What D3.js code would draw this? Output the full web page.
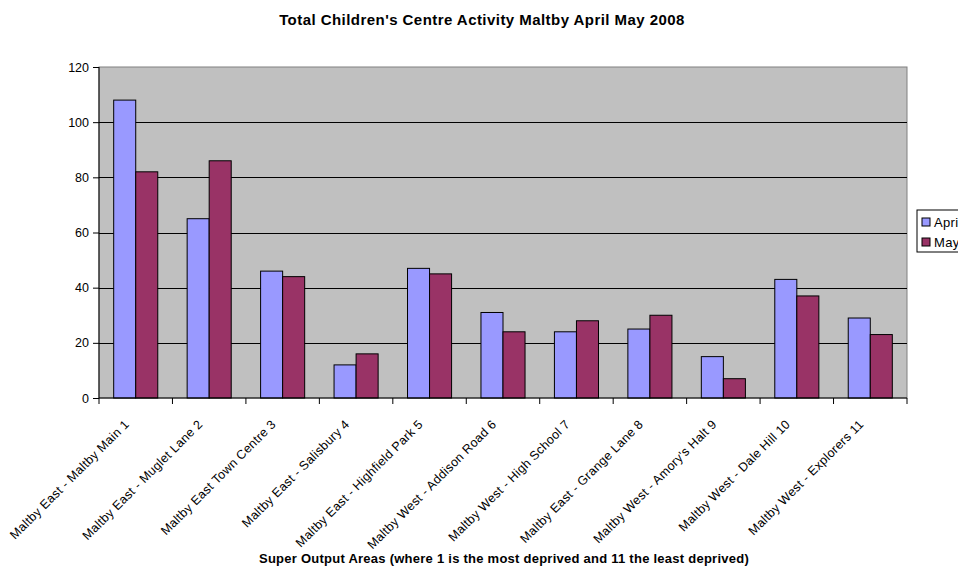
<!DOCTYPE html>
<html>
<head>
<meta charset="utf-8">
<script src="https://cdn.jsdelivr.net/npm/d3@7"></script>
<style>
  body { margin: 0; background: #fff; }
  svg { font-family: 'Liberation Sans', Arial, sans-serif; }
  .title { font-weight: bold; font-size: 15px; letter-spacing: 0.45px; }
  .axis-label { font-weight: bold; font-size: 13px; letter-spacing: 0.25px; }
  .tick text { font-size: 12.5px; fill: #000; }
  .xlabel { letter-spacing: 0.3px; }
</style>
</head>
<body>
<svg width="958" height="566"></svg>
<script>
const titleText = 'Total Children\'s Centre Activity Maltby April May 2008';
const xAxisLabelText = 'Super Output Areas (where 1 is the most deprived and 11 the least deprived)';

const areas = [
  'Maltby East - Maltby Main 1',
  'Maltby East - Muglet Lane 2',
  'Maltby East Town Centre 3',
  'Maltby East - Salisbury 4',
  'Maltby East - Highfield Park 5',
  'Maltby West - Addison Road 6',
  'Maltby West - High School 7',
  'Maltby East  - Grange Lane 8',
  'Maltby West - Amory\'s Halt 9',
  'Maltby West - Dale Hill 10',
  'Maltby West - Explorers 11'
];
const seriesNames = ['April', 'May'];
const april = [108, 65, 46, 12, 47, 31, 24, 25, 15, 43, 29];
const may = [82, 86, 44, 16, 45, 24, 28, 30, 7, 37, 23];
const yTicks = [0, 20, 40, 60, 80, 100, 120];
const colors = ['#9999ff', '#993366'];

const data = areas.map((a, i) => ({ area: a, values: [april[i], may[i]] }));

const svg = d3.select('svg');
const width = +svg.attr('width');
const height = +svg.attr('height');

const margin = { top: 67, right: 51, bottom: 168, left: 99 };
const innerWidth = width - margin.left - margin.right;
const innerHeight = height - margin.top - margin.bottom;

const xScale = d3.scaleBand()
  .domain(areas)
  .range([0, innerWidth])
  .paddingInner(0.4)
  .paddingOuter(0.2);

const xSub = d3.scaleBand()
  .domain(seriesNames)
  .range([0, xScale.bandwidth()]);

const yScale = d3.scaleLinear()
  .domain([0, 120])
  .range([innerHeight, 0]);

const g = svg.append('g')
  .attr('transform', `translate(${margin.left},${margin.top})`);

// plot background
g.append('rect')
  .attr('width', innerWidth)
  .attr('height', innerHeight)
  .attr('fill', '#c0c0c0')
  .attr('stroke', '#808080');

// grid lines
g.append('g')
  .selectAll('line').data(yTicks.slice(1, -1))
  .enter().append('line')
    .attr('x1', 0)
    .attr('x2', innerWidth)
    .attr('y1', d => Math.round(yScale(d)) + 0.5)
    .attr('y2', d => Math.round(yScale(d)) + 0.5)
    .attr('stroke', '#000');

// bars
const groups = g.selectAll('.group').data(data)
  .enter().append('g')
    .attr('class', 'group')
    .attr('transform', d => `translate(${xScale(d.area)},0)`);

groups.selectAll('rect')
  .data(d => d.values.map((v, i) => ({ key: seriesNames[i], value: v, i })))
  .enter().append('rect')
    .attr('x', d => xSub(d.key))
    .attr('y', d => yScale(d.value))
    .attr('width', xSub.bandwidth())
    .attr('height', d => innerHeight - yScale(d.value))
    .attr('fill', d => colors[d.i])
    .attr('stroke', '#000')
    .attr('stroke-width', 1);

// y axis
const yAxis = d3.axisLeft(yScale)
  .tickValues(yTicks)
  .tickSize(6)
  .tickPadding(4);

const yAxisG = g.append('g').call(yAxis);
yAxisG.selectAll('line').attr('stroke', '#000');
yAxisG.select('.domain').attr('stroke', '#000').attr('d', `M0,0V${innerHeight}`);

// x axis: ticks between categories
const xAxisG = g.append('g')
  .attr('transform', `translate(0,${innerHeight})`);

xAxisG.append('line')
  .attr('x1', 0).attr('x2', innerWidth)
  .attr('stroke', '#000');

const boundaries = d3.range(areas.length + 1).map(i => i * innerWidth / areas.length);
xAxisG.selectAll('.xtick').data(boundaries)
  .enter().append('line')
    .attr('class', 'xtick')
    .attr('x1', d => d).attr('x2', d => d)
    .attr('y1', 0).attr('y2', 6)
    .attr('stroke', '#000');

xAxisG.selectAll('.xlabel').data(areas)
  .enter().append('text')
    .attr('class', 'xlabel')
    .attr('transform', d => `translate(${xScale(d) + xScale.bandwidth() / 2 - 9},${24}) rotate(-45)`)
    .attr('text-anchor', 'end')
    .attr('font-size', '12.5px')
    .attr('dy', '0.35em')
    .text(d => d);

// axis label
svg.append('text')
  .attr('class', 'axis-label')
  .attr('x', 504)
  .attr('y', 563)
  .attr('text-anchor', 'middle')
  .text(xAxisLabelText);

// title
svg.append('text')
  .attr('class', 'title')
  .attr('x', 482)
  .attr('y', 25)
  .attr('text-anchor', 'middle')
  .text(titleText);

// legend
const legend = svg.append('g')
  .attr('transform', 'translate(917,210)');

legend.append('rect')
  .attr('width', 60)
  .attr('height', 42)
  .attr('fill', '#fff')
  .attr('stroke', '#000');

const legendItems = legend.selectAll('.item').data(seriesNames)
  .enter().append('g')
    .attr('class', 'item')
    .attr('transform', (d, i) => `translate(5,${13 + i * 20})`);

legendItems.append('rect')
  .attr('y', -5)
  .attr('width', 8)
  .attr('height', 8)
  .attr('fill', (d, i) => colors[i])
  .attr('stroke', '#000');

legendItems.append('text')
  .attr('x', 12)
  .attr('y', 4)
  .attr('font-size', '13px')
  .attr('letter-spacing', '0.3px')
  .text(d => d);
</script>
</body>
</html>
